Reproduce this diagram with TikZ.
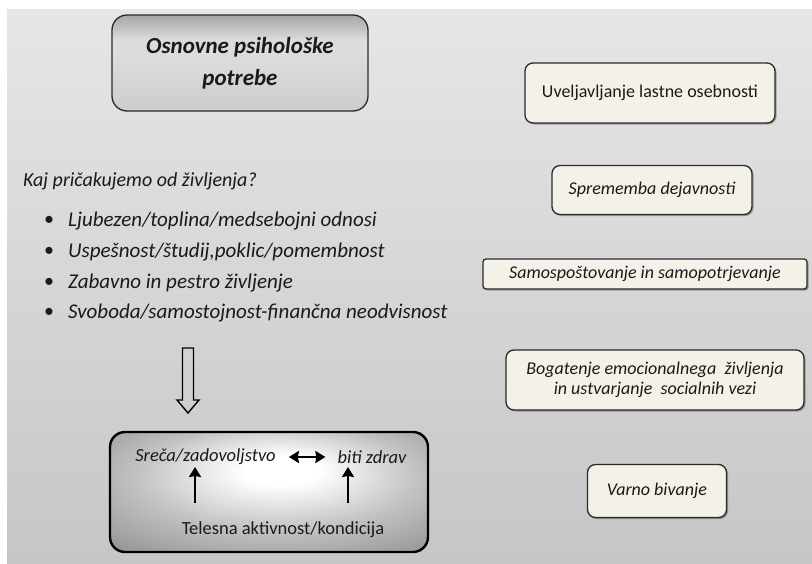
\documentclass[tikz,border=0pt]{standalone}
\usepackage{fontspec}
\setmainfont{Carlito}
\usetikzlibrary{shadows,arrows.meta,calc}
\definecolor{bgtop}{HTML}{E6E6E6}
\definecolor{bgbot}{HTML}{C6C6C6}
\definecolor{cream}{HTML}{F4F2E8}
\definecolor{edge}{HTML}{2A2A2A}
\definecolor{txt}{HTML}{1A1A1A}
\definecolor{tA}{HTML}{CCCCCC}
\definecolor{tB}{HTML}{DCDCDC}
\definecolor{tC}{HTML}{A6A6A6}
\definecolor{rA}{HTML}{FFFFFF}
\definecolor{rB}{HTML}{C2C2C2}
\definecolor{rC}{HTML}{8E8E8E}
\pgfdeclareverticalshading{titleshade}{100bp}{color(0bp)=(tA); color(25bp)=(tA); color(52bp)=(tB); color(62bp)=(tB); color(75bp)=(tC); color(100bp)=(tC)}
\pgfdeclareradialshading{boxshade}{\pgfpoint{2bp}{10bp}}{color(0bp)=(rA); color(6bp)=(rA); color(22bp)=(rB); color(40bp)=(rC); color(60bp)=(rC)}
\tikzset{
  rbox/.style={draw=edge, line width=1.3pt, fill=cream, rounded corners=8pt, align=center,
    text=txt, font=\fontsize{18}{21}\selectfont,
    drop shadow={shadow xshift=1.5pt, shadow yshift=-1.5pt, fill=black, opacity=0.3}},
  rboxit/.style={rbox, font=\fontsize{18}{21}\selectfont\itshape},
  qtx/.style={font=\fontsize{20}{24}\selectfont\itshape, text=txt, inner sep=0pt},
  itx/.style={font=\fontsize{21}{24}\selectfont\itshape, text=txt, inner sep=0pt},
  bul/.style={font=\fontsize{20}{24}\selectfont, text=txt, inner sep=0pt},
  intext/.style={font=\fontsize{18.5}{22}\selectfont, text=txt, inner sep=0pt},
  intextit/.style={intext, font=\fontsize{18.5}{22}\selectfont\itshape},
  blackarrow/.style={line width=2.4pt, draw=black},
  bigtip/.tip={Stealth[length=10pt,width=12pt,inset=1pt]}
}
\begin{document}
\begin{tikzpicture}[x=1pt,y=-1pt]
\useasboundingbox (0,0) rectangle (812,563);
\fill[white] (0,0) rectangle (812,563);
\fill[top color=bgtop, bottom color=bgbot] (7,9) rectangle (812,563);

% title box
\node[draw=edge, line width=1.3pt, rounded corners=15pt, shading=titleshade,
      minimum width=256pt, minimum height=96pt, align=center,
      font=\fontsize{23}{32}\selectfont\bfseries\itshape, text=txt] (title) at (240,63)
  {Osnovne psihološke\\potrebe};

% question and list
\node[qtx, anchor=west] (q) at (23,181) {Kaj pričakujemo od življenja?};
\node[itx, anchor=west] (b1) at (68,221) {Ljubezen/toplina/medsebojni odnosi};
\node[itx, anchor=west] (b2) at (68,252) {Uspešnost/študij,poklic/pomembnost};
\node[itx, anchor=west] (b3) at (68,283) {Zabavno in pestro življenje};
\node[itx, anchor=west] (b4) at (68,313) {Svoboda/samostojnost-finančna neodvisnost};
\foreach \n in {b1,b2,b3,b4}{
  \node[bul] at ($(\n.west)+(-19,0)$) {•};
}

% hollow arrow
\draw[line width=1.4pt, draw=black, line join=miter]
  (182.5,348) -- (193.5,348) -- (193.5,400) -- (199,400) -- (188,413) -- (177,400) -- (182.5,400) -- cycle;

% bottom box
\node[draw=black, line width=2.4pt, rounded corners=15pt, shading=boxshade,
      minimum width=318pt, minimum height=120pt] (bot) at (269,492) {};
\node[intextit] (srec) at (205.5,457) {Sreča/zadovoljstvo};
\node[intextit] (biti) at (372,457) {biti zdrav};
\node[intext] (tel) at (283,530) {Telesna aktivnost/kondicija};
\draw[blackarrow, {bigtip}-{bigtip}]
  ($(srec.east)+(13,0)$) -- ($(biti.west)+(-12,0)$);
\coordinate (u1) at (195,503);
\coordinate (u2) at (348,503);
\draw[blackarrow, -{bigtip}] (u1) -- (u1 |- 0,467);
\draw[blackarrow, -{bigtip}] (u2) -- (u2 |- 0,467);

% right boxes
\node[rbox, minimum width=250pt, minimum height=60pt] (r1) at (650,93) {Uveljavljanje lastne osebnosti};
\node[rboxit, minimum width=200pt, minimum height=49pt] (r2) at (652,190) {Sprememba dejavnosti};
\node[rboxit, rounded corners=3pt, minimum width=324pt, minimum height=30pt, inner ysep=2pt] (r3) at (645,274) {Samospoštovanje in samopotrjevanje};
\node[rboxit, minimum width=298pt, minimum height=60pt, font=\fontsize{18}{20}\selectfont\itshape] (r4) at (655,380) {Bogatenje emocionalnega\ \ življenja\\in ustvarjanje\ \ socialnih vezi};
\node[rboxit, minimum width=139pt, minimum height=53pt] (r5) at (657,491) {Varno bivanje};
\end{tikzpicture}
\end{document}
